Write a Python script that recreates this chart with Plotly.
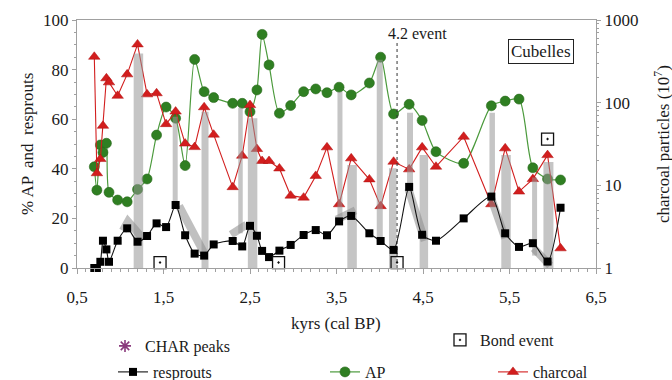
import plotly.graph_objects as go

# Sample ages (kyr cal BP) shared by the three proxy series
ages = [0.70, 0.73, 0.77, 0.80, 0.84, 0.87, 0.97, 1.08, 1.20, 1.31,
        1.42, 1.53, 1.64, 1.75, 1.86, 1.97, 2.08, 2.30, 2.41, 2.50,
        2.58, 2.64, 2.72, 2.84, 2.97, 3.12, 3.26, 3.39, 3.53, 3.67,
        3.88, 4.01, 4.16, 4.34, 4.49, 4.65, 4.97, 5.29, 5.45, 5.61,
        5.77, 5.94, 6.09]
resprouts = [0, 0, 2.5, 11, 7.5, 2.5, 11, 16, 10.6, 12.9,
             18, 16.5, 25.4, 13.2, 5.8, 5, 9.5, 10.9, 8.7, 17,
             13, 6.9, 4.4, 7, 9.3, 13.3, 15.3, 13.2, 18.8, 21,
             14, 10.9, 7.3, 32.7, 13.4, 11, 20, 28.8, 14, 8.5,
             10, 2.6, 24.3]
ap = [40.8, 31.4, 49.6, 46.6, 50.3, 30.5, 27.4, 26.7, 31.7, 35.9,
      53.6, 64.9, 60.4, 41.3, 84.1, 71.1, 68.7, 66.4, 66.4, 63,
      71.8, 94.2, 81.9, 62.4, 65.5, 71.1, 72.2, 70.7, 72.9, 69.8,
      74.6, 85, 62.1, 66, 59.5, 46.9, 42.2, 65.4, 67.3, 68.1,
      40.4, 35.9, 35.5]
charcoal = [359, 14, 20.8, 52.5, 197, 176, 121, 220, 507, 126,
            130, 55, 78, 32, 29, 88, 41, 9.5, 22.8, 93.5,
            27.5, 19.7, 19.7, 16, 7.5, 7.1, 13, 28.8, 5.9, 21.2,
            11.8, 5.6, 19.3, 15.6, 28.8, 16.8, 38.7, 5.9, 28, 8.4,
            11.9, 23.2, 1.73]

# Shaded intervals (centre age, lower and upper % value)
band_age = [1.21, 1.635, 1.98, 2.39, 2.53, 3.54, 3.68, 4.00, 4.15, 4.35,
            4.51, 5.30, 5.46, 5.79, 5.95]
band_low = [0, 25, 0, 14, 0, 20.7, 0, 10.6, 0, 32.7, 0, 28.8, 0, 5, 0]
band_high = [86.5, 61, 63, 64.6, 60.4, 71.1, 41.5, 84, 40.2, 62.6,
             45.6, 62.6, 45.6, 36.5, 42.7]
band_px = [9.5, 5, 7, 4.5, 9.5, 5, 9.5, 6, 7.5, 6, 8.5, 5.5, 9.5, 5, 10]

# Resprout trend segments
trend_age = [[1.03, 1.09, 1.27], [1.68, 1.97], [2.28, 2.46], [3.50, 3.72],
             [4.33, 4.52], [5.29, 5.45], [5.78, 5.97]]
trend_val = [[15, 18.8, 11.5], [25, 6], [13.5, 17.5], [19.5, 23.2],
             [32, 11], [28, 12], [8, 1]]

# Events
char_peaks = [1.22, 1.96, 2.51, 3.68, 4.15, 4.54, 5.94]
bond_age = [1.46, 2.83, 4.20, 5.94]
bond_val = [2.2, 2.2, 2.2, 52]
event_42 = 4.2

x_ticks = [0.5, 1.5, 2.5, 3.5, 4.5, 5.5, 6.5]
x_labels = ["0,5", "1,5", "2,5", "3,5", "4,5", "5,5", "6,5"]
y_ticks = [0, 20, 40, 60, 80, 100]
log_ticks = [1, 10, 100, 1000]
log_labels = ["1", "10", "100", "1000"]

SERIF = "Liberation Serif"
INK = "#1a1a1a"
AXIS = "#a0a0a0"
GREEN = "#2f7f22"
RED = "#d21e1e"
PURPLE = "#8a3a7c"

W, H = 672, 380
ML, MR, MT, MB = 77, 76, 20, 112
PW, PH = W - ML - MR, H - MT - MB
px_per_kyr = PW / (x_ticks[-1] - x_ticks[0])

fig = go.Figure()

# AP (%), left axis
fig.add_trace(go.Scatter(
    x=ages, y=ap, mode="lines+markers", name="AP", yaxis="y",
    line=dict(color="#4b9a3c", width=1.2, shape="spline", smoothing=0.7),
    marker=dict(symbol="circle", size=10, color=GREEN,
                line=dict(color="#2a6a1c", width=0.6)),
    legend="legend4", cliponaxis=False,
))

# Charcoal particles, logarithmic right axis
fig.add_trace(go.Scatter(
    x=ages, y=charcoal, mode="lines+markers", name="charcoal", yaxis="y2",
    line=dict(color=RED, width=1.1),
    marker=dict(symbol="triangle-up", size=10, color=RED,
                line=dict(color="#b01010", width=0.5)),
    legend="legend5", cliponaxis=False,
))

# Grey shaded intervals
fig.add_trace(go.Bar(
    x=band_age, base=band_low,
    y=[h - l for h, l in zip(band_high, band_low)],
    width=[w / px_per_kyr for w in band_px],
    marker=dict(color="rgba(150,150,150,0.55)", line=dict(width=0)),
    yaxis="y3", showlegend=False, hoverinfo="skip",
))

# Trend segments along the resprout curve
tx, ty = [], []
for a, v in zip(trend_age, trend_val):
    tx += a + [None]
    ty += v + [None]
fig.add_trace(go.Scatter(
    x=tx, y=ty, mode="lines", yaxis="y3",
    line=dict(color="rgba(140,140,140,0.55)", width=8),
    showlegend=False, hoverinfo="skip",
))

# 4.2 ka event marker line
fig.add_trace(go.Scatter(
    x=[event_42, event_42], y=[0, 91], mode="lines", yaxis="y3",
    line=dict(color="#333333", width=1, dash="dot"),
    showlegend=False, hoverinfo="skip",
))

# Resprouts (%)
fig.add_trace(go.Scatter(
    x=ages, y=resprouts, mode="lines+markers", name="resprouts", yaxis="y3",
    line=dict(color="#111111", width=1.1, shape="spline", smoothing=0.7),
    marker=dict(symbol="square", size=8, color="#000000"),
    legend="legend3", cliponaxis=False,
))

# Bond events
fig.add_trace(go.Scatter(
    x=bond_age, y=bond_val, mode="markers", name="Bond event", yaxis="y3",
    marker=dict(symbol="square-open-dot", size=12, color="#111111",
                line=dict(width=1.3, color="#111111")),
    legend="legend2", cliponaxis=False,
))

# CHAR peaks below the time axis
fig.add_trace(go.Scatter(
    x=char_peaks, y=[-5.5] * len(char_peaks), mode="markers", name="CHAR peaks",
    yaxis="y3",
    marker=dict(symbol="asterisk-open", size=10, color=PURPLE,
                line=dict(width=1.6, color=PURPLE)),
    legend="legend", cliponaxis=False,
))

tick_font = dict(family=SERIF, size=17, color=INK)
leg_font = dict(family=SERIF, size=16, color=INK)


def legend_at(px_sym, py):
    # legend anchored in container pixels so it does not resize the plot area
    return dict(x=(px_sym - 22) / W, y=(H - py) / H, xref="container",
                yref="container", xanchor="left", yanchor="middle",
                bgcolor="rgba(0,0,0,0)", borderwidth=0,
                font=leg_font, itemwidth=30, tracegroupgap=0)


def paper_x(px):
    return (px - ML) / PW


def paper_y(py):
    return (H - MB - py) / PH


def title_note(text, px, py, angle=0):
    return dict(x=paper_x(px), y=paper_y(py), xref="paper", yref="paper",
                xanchor="center", yanchor="middle", text=text,
                textangle=angle, showarrow=False, font=tick_font)


axis_common = dict(showgrid=False, zeroline=False, showline=True,
                   linecolor=AXIS, linewidth=1, ticks="outside",
                   tickcolor=AXIS, tickfont=tick_font, automargin=False)

fig.update_layout(
    template="none",
    width=W, height=H,
    margin=dict(l=ML, r=MR, t=MT, b=MB, pad=0, autoexpand=False),
    paper_bgcolor="white", plot_bgcolor="white",
    showlegend=True, barmode="overlay",
    font=dict(family=SERIF, color=INK),
    xaxis=dict(
        range=[x_ticks[0], x_ticks[-1]], tickvals=x_ticks, ticktext=x_labels,
        mirror=True, ticklen=5, ticklabelstandoff=9,
        minor=dict(dtick=0.1, tick0=0.5, ticks="outside", ticklen=3,
                   tickcolor=AXIS, showgrid=False),
        **axis_common,
    ),
    yaxis=dict(
        range=[0, 100], tickvals=y_ticks, side="left", ticklen=4,
        minor=dict(dtick=5, ticks="outside", ticklen=2, tickcolor=AXIS,
                   showgrid=False),
        **axis_common,
    ),
    yaxis2=dict(
        type="log", range=[0, 3], overlaying="y", side="right",
        tickvals=log_ticks, ticktext=log_labels, ticklen=4,
        minor=dict(ticks="outside", ticklen=2, tickcolor=AXIS, showgrid=False,
                   tickvals=[m * d for d in (1, 10, 100) for m in range(2, 10)]),
        **axis_common,
    ),
    yaxis3=dict(range=[0, 100], overlaying="y", visible=False),
    legend=legend_at(127, 346),
    legend2=legend_at(462, 340),
    legend3=legend_at(135, 372),
    legend4=legend_at(347, 372),
    legend5=legend_at(515, 372),
    annotations=[
        title_note("kyrs (cal BP)", 336, 323),
        title_note("% AP  and  resprouts", 27, 144, -90),
        title_note("charcoal particles (10<sup>7</sup>)", 662, 144, -90),
        dict(x=4.44, y=94.4, xref="x", yref="y", text="4.2 event",
             showarrow=False, font=dict(family=SERIF, size=16, color=INK)),
        dict(x=5.86, y=87.5, xref="x", yref="y", text="Cubelles",
             showarrow=False, font=dict(family=SERIF, size=17, color=INK),
             bordercolor="#222222", borderwidth=1, borderpad=2,
             bgcolor="white"),
    ],
)

fig.write_html("out.html")
